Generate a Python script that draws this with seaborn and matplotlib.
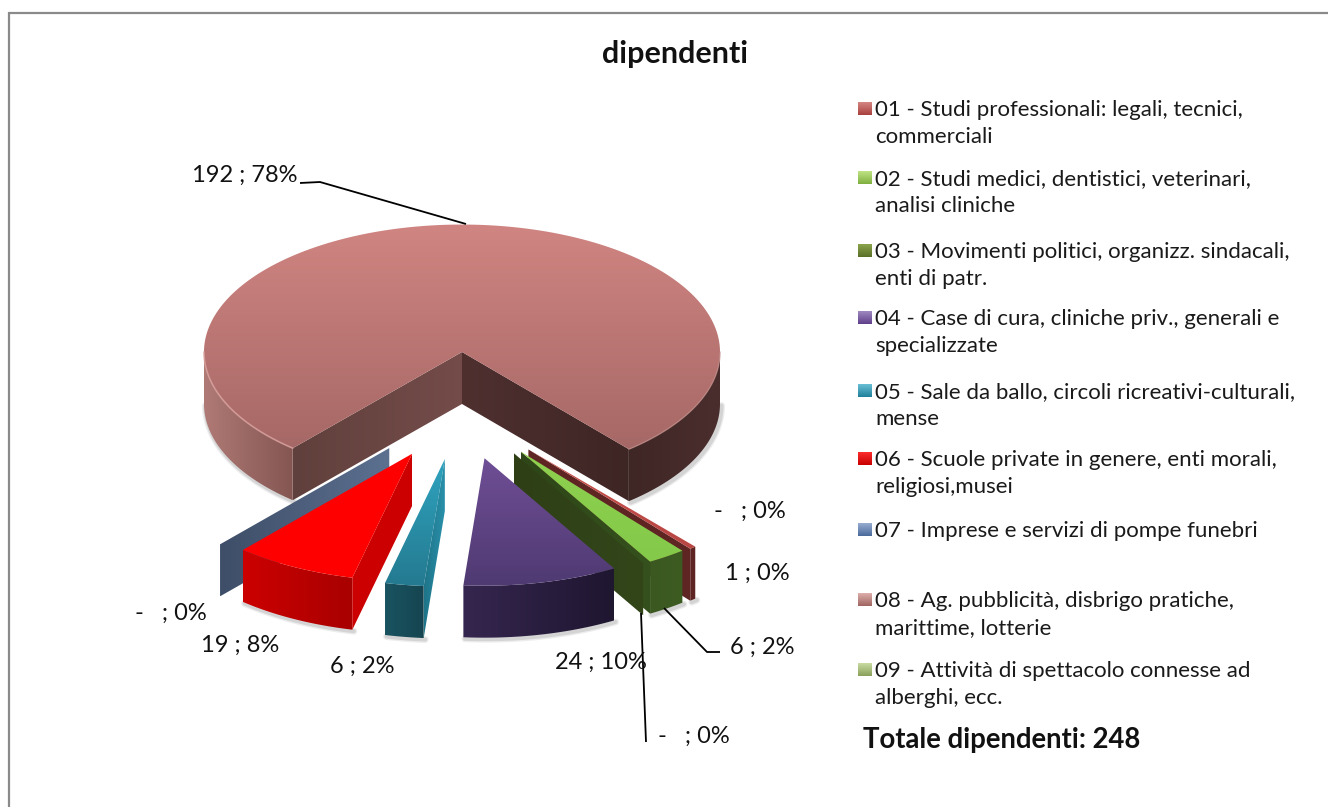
import numpy as np
import matplotlib
matplotlib.use("Agg")
import matplotlib.pyplot as plt
from matplotlib.patches import Polygon
import seaborn as sns

# ---- data ----
categories = [
    "01 - Studi professionali: legali, tecnici,\ncommerciali",
    "02 - Studi medici, dentistici, veterinari,\nanalisi cliniche",
    "03 - Movimenti politici, organizz. sindacali,\nenti di patr.",
    "04 - Case di cura, cliniche priv., generali e\nspecializzate",
    "05 - Sale da ballo, circoli ricreativi-culturali,\nmense",
    "06 - Scuole private in genere, enti morali,\nreligiosi,musei",
    "07 - Imprese e servizi di pompe funebri",
    "08 - Ag. pubblicità, disbrigo pratiche,\nmarittime, lotterie",
    "09 - Attività di spettacolo connesse ad\nalberghi, ecc.",
]
values = [1, 6, 0, 24, 6, 19, 0, 192, 0]
percents = [0, 2, 0, 10, 2, 8, 0, 78, 0]
title = "dipendenti"
total_label = "Totale dipendenti: 248"

# ---- styles ----
top_hi = ["#C9504C", "#8FD14F", "#5E7F2E", "#6F4E95", "#2FA3BF", "#FF0000", "#5F7391", "#D08582", "#B5C98A"]
top_lo = ["#B84643", "#84C94A", "#4F6E26", "#4F3A72", "#247A90", "#FF0000", "#55688A", "#A66866", "#A5B97A"]
wall_l = ["#5E2523", "#3A5820", "#33461A", "#35264F", "#1A5361", "#CC0000", "#3E4E68", "#A56E6A", "#8A9A6A"]
wall_r = ["#5E2523", "#3D5C22", "#2E3F16", "#1F1630", "#154550", "#A80000", "#5C7090", "#42292A", "#8A9A6A"]
# cut walls: colour at the rim and at the centre, for the slice's first and last edge
first_tip = ["#5E2523", "#35511D", "#30421A", "#35264F", "#1E7488", "#CC0000", "#3E4E68", "#60403C", "#8A9A6A"]
first_apex = ["#5E2523", "#35511D", "#30421A", "#35264F", "#2A92AC", "#CC0000", "#5C7090", "#744C4A", "#8A9A6A"]
last_tip = ["#5E2523", "#35511D", "#33461A", "#35264F", "#1E7488", "#CC0000", "#3E4E68", "#3E2625", "#8A9A6A"]
last_apex = ["#5E2523", "#2E4618", "#2E3F16", "#35264F", "#23859C", "#CC0000", "#5C7090", "#4E302F", "#8A9A6A"]
big_outer_left = ("#B07A76", "#845652")
big_outer_right = ("#3F2726", "#4A2E2D")
legend_hi = ["#D98C89", "#C5E88A", "#8FA84F", "#A58FC5", "#6FC5DA", "#FF3030", "#9DB2D3", "#E2B5B2", "#CFE0A8"]
legend_lo = ["#A8403D", "#7FAF3F", "#5A7028", "#5F3F8A", "#1F7F9A", "#C80000", "#4A6A9C", "#A06460", "#8AA05A"]

sns.set_theme(style="white")
plt.rcParams["font.family"] = ["Lato", "DejaVu Sans"]

fig = plt.figure(figsize=(13.28, 8.07), dpi=100)
ax = fig.add_axes([0, 0, 1, 1])
ax.set_xlim(0, 1328)
ax.set_ylim(807, 0)
ax.axis("off")

CX, CY, RX, K, DEPTH = 462.0, 352.0, 258.0, 0.494, 52.0
START = 49.7

total = float(sum(values))
spans = np.array(values) / total * 360.0
starts = START + np.concatenate([[0], np.cumsum(spans)[:-1]])

z = [10]


def nz():
    z[0] += 1
    return z[0]


def arc(ox, oy, a0, a1, dz=0.0, n=None):
    n = n or max(2, int(abs(a1 - a0) * 1.5) + 2)
    th = np.radians(np.linspace(a0, a1, n))
    return np.c_[ox + RX * np.cos(th), oy + RX * K * np.sin(th) + dz]


def radial(a):
    return np.array([RX * np.cos(np.radians(a)), RX * K * np.sin(np.radians(a))])


def gradient_poly(pts, hi, lo, horizontal=False):
    """Fill a polygon with a seaborn blended gradient."""
    zo = nz()
    poly = Polygon(pts, closed=True, fc="none", ec="none", transform=ax.transData)
    ax.add_patch(poly)
    cmap = sns.blend_palette([hi, lo], as_cmap=True)
    grad = np.linspace(0, 1, 200)
    grad = grad[None, :] if horizontal else grad[:, None]
    x0, y0 = pts.min(axis=0)
    x1, y1 = pts.max(axis=0)
    im = ax.imshow(grad, cmap=cmap, extent=(x0, x1, y1, y0), aspect="auto", zorder=zo, interpolation="bilinear")
    im.set_clip_path(poly)
    ax.set_xlim(0, 1328)
    ax.set_ylim(807, 0)


def cut_wall(ox, oy, a, tip_col, apex_col):
    tip = np.array([ox, oy]) + radial(a)
    pts = np.array([[ox, oy], tip, tip + [0, DEPTH], [ox, oy + DEPTH]])
    if tip[0] < ox:
        gradient_poly(pts, tip_col, apex_col, horizontal=True)
    else:
        gradient_poly(pts, apex_col, tip_col, horizontal=True)


def front_ranges(a0, a1):
    """Parts of [a0, a1] on the viewer's side of the pie (sin > 0)."""
    out = []
    for k in (0, 360):
        lo, hi = max(a0, k), min(a1, k + 180)
        if hi > lo:
            out.append((lo, hi))
    return out


def draw_slice(i):
    a0, a1 = starts[i], starts[i] + spans[i]
    if i == 7:
        ox, oy = CX, CY
    else:
        mid = 0.5 * (a0 + a1)
        d = 90 + (0.47 if mid < 90 else 0.5) * (mid - 90)
        dist = 220 - 0.3 * abs(mid - 90)
        ox = CX + dist * np.cos(np.radians(d))
        oy = CY + dist * K * np.sin(np.radians(d))

    # soft shadow under the outer wall
    for u, v in front_ranges(a0, a1):
        for lw, al in ((5, 0.10), (3, 0.16)):
            s = arc(ox + 1.5, oy + 1.5, u, v, DEPTH)
            ax.plot(s[:, 0], s[:, 1], color="#555555", alpha=al, lw=lw, zorder=nz(), solid_capstyle="round")

    # outer wall
    for u, v in front_ranges(a0, a1):
        p = arc(ox, oy, u, v)
        q = np.vstack([p, (p + [0, DEPTH])[::-1]])
        if i == 7:
            left, right = big_outer_left if u < 180 else big_outer_right
        else:
            left, right = wall_l[i], wall_r[i]
        gradient_poly(q, left, right, horizontal=True)

    # cut walls: only those turned towards the viewer
    if np.sin(np.radians(a0 - 90)) > 0:
        cut_wall(ox, oy, a0, first_tip[i], first_apex[i])
    if np.sin(np.radians(a1 + 90)) > 0:
        cut_wall(ox, oy, a1, last_tip[i], last_apex[i])

    # top face
    if spans[i] > 0:
        top = np.vstack([[ox, oy], arc(ox, oy, a0, a1)])
        gradient_poly(top, top_hi[i], top_lo[i])
        if i == 7:
            rim = arc(ox, oy, a0, 180)
            ax.plot(rim[:, 0], rim[:, 1], color="#D9A09C", lw=1.2, alpha=0.8, zorder=nz())
            rim = arc(ox, oy, 360, a1)
            ax.plot(rim[:, 0], rim[:, 1], color="#C08A86", lw=1.0, alpha=0.7, zorder=nz())


# back to front
for idx in (7, 6, 5, 4, 0, 1, 2, 3):
    draw_slice(idx)


def lab(v, p):
    return f"-   ; {p}%" if v == 0 else f"{v} ; {p}%"


label_xy = [(757, 573), (762, 647), (694, 736), (601, 662), (362, 666), (240, 645), (171, 613), (245, 175), (750, 511)]
for v, p, (x, y) in zip(values, percents, label_xy):
    ax.text(x, y, lab(v, p), ha="center", va="center", fontsize=17, color="#111111", zorder=500)

# leaders
leaders = [
    [(300, 183), (320, 182), (466, 224)],
    [(664, 608), (707, 652), (720, 652)],
    [(641, 613), (646, 742)],
]
for seg in leaders:
    s = np.array(seg)
    ax.plot(s[:, 0], s[:, 1], color="black", lw=1.3, zorder=499, solid_capstyle="butt")

# legend
legend_y = [108, 177, 250, 317, 390, 458, 529, 599, 669]
for i, (txt, y) in enumerate(zip(categories, legend_y)):
    pts = np.array([[858.0, y - 6.5], [872.0, y - 6.5], [872.0, y + 7.0], [858.0, y + 7.0]])
    gradient_poly(pts, legend_hi[i], legend_lo[i])
    ax.text(875, y - 8, txt, ha="left", va="top", fontsize=16, color="#1a1a1a", linespacing=1.42, zorder=500)

ax.text(675, 54, title, ha="center", va="center", fontsize=22, fontweight="bold", color="#111111", zorder=500)
ax.text(863, 740, total_label, ha="left", va="center", fontsize=19.8, fontweight="bold", color="#111111", zorder=500)

# chart frame: only the left and top edges fall inside the picture
ax.plot([9, 9, 1328], [807, 12.5, 12.5], color="#8A8A8A", lw=1.6, zorder=1, solid_joinstyle="miter")

fig.savefig("out.png", dpi=100, facecolor="white")
